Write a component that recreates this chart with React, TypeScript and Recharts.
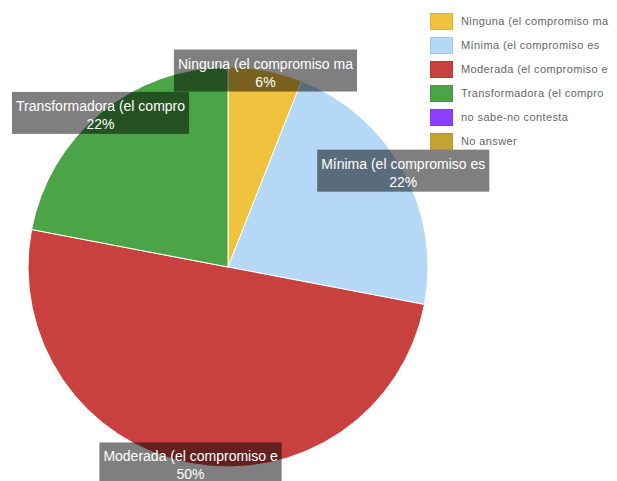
import { PieChart, Pie, Cell, Legend } from "recharts";

const categories = [
  "Ninguna (el compromiso ma",
  "Mínima (el compromiso es",
  "Moderada (el compromiso e",
  "Transformadora (el compro",
  "no sabe-no contesta",
  "No answer",
];
const percents = [6, 22, 50, 22, 0, 0];
const colors = ["#f0c23e", "#b4d8f6", "#c8413e", "#4ba547", "#8b3ffd", "#c3a332"];

const slices = categories
  .map((name, i) => ({ name, value: percents[i], color: colors[i] }))
  .filter((d) => d.value > 0);

const RADIAN = Math.PI / 180;
const FONT = "14px 'Liberation Sans', Arial, sans-serif";

let ctx: CanvasRenderingContext2D | null = null;
function textWidth(s: string) {
  if (!ctx) ctx = document.createElement("canvas").getContext("2d");
  if (!ctx) return s.length * 7.5;
  ctx.font = FONT;
  return ctx.measureText(s).width;
}

const BoxLabel = ({ cx, cy, midAngle, outerRadius, name, value }: any) => {
  const x = cx + outerRadius * Math.cos(-midAngle * RADIAN);
  const y = cy + outerRadius * Math.sin(-midAngle * RADIAN);
  const w = textWidth(name) + 8;
  const h = 42;
  return (
    <g>
      <rect x={x - w / 2} y={y - h / 2} width={w} height={h} fill="rgba(0,0,0,0.5)" />
      <text x={x} y={y - 2} fill="#fff" textAnchor="middle" style={{ font: FONT }}>
        {name}
      </text>
      <text x={x} y={y + 16} fill="#fff" textAnchor="middle" style={{ font: FONT }}>
        {`${value}%`}
      </text>
    </g>
  );
};

const LegendBox = () => (
  <div>
    {categories.map((c, i) => (
      <div key={c} style={{ display: "flex", alignItems: "center", height: 24 }}>
        <div
          style={{
            flexShrink: 0,
            width: 21,
            height: 15,
            background: colors[i],
            border: "1px solid rgba(0,0,0,0.08)",
            marginRight: 8,
          }}
        />
        <span
          style={{
            fontFamily: "'Liberation Sans', Arial, sans-serif",
            fontSize: 11,
            letterSpacing: 0.4,
            color: "#666",
            whiteSpace: "nowrap",
          }}
        >
          {c}
        </span>
      </div>
    ))}
  </div>
);

export default function App() {
  return (
    <div style={{ position: "absolute", left: 0, top: 0, width: 617, height: 481, background: "#fff", overflow: "hidden" }}>
      <PieChart width={617} height={481} margin={{ top: 0, right: 0, bottom: 0, left: 0 }}>
        <Pie
          data={slices}
          dataKey="value"
          nameKey="name"
          cx={228}
          cy={267}
          outerRadius={200}
          startAngle={90}
          endAngle={-270}
          stroke="#fff"
          strokeWidth={1}
          labelLine={false}
          label={BoxLabel}
          isAnimationActive={false}
        >
          {slices.map((d, i) => (
            <Cell key={`cell-${i}`} fill={d.color} />
          ))}
        </Pie>
        <Legend
          content={<LegendBox />}
          wrapperStyle={{ position: "absolute", left: 430, top: 9, width: 187 }}
        />
      </PieChart>
    </div>
  );
}
